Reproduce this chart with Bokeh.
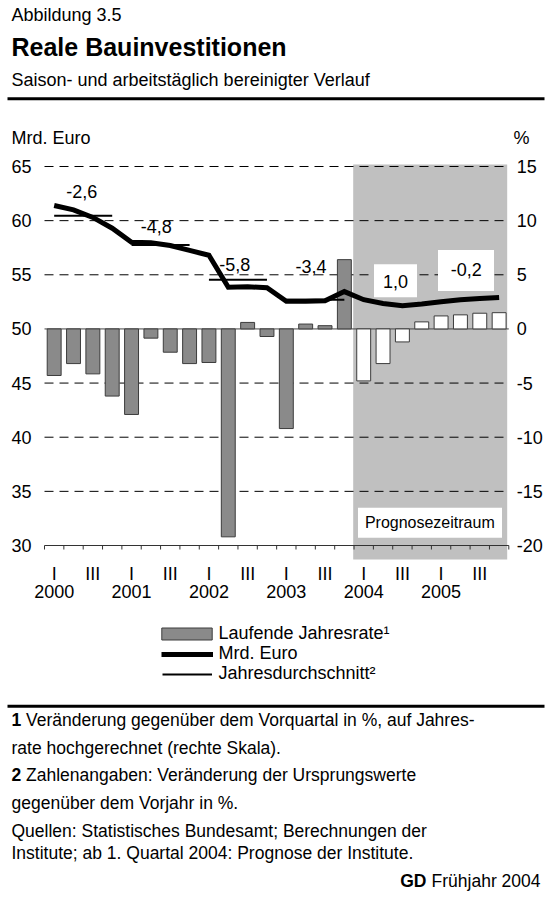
from bokeh.plotting import figure
from bokeh.models import Range1d, LinearAxis, FixedTicker, Legend, LegendItem
from bokeh.embed import file_html
from bokeh.resources import INLINE
from bokeh.core.properties import value

FONT = "Liberation Sans"
W, H = 550, 917

# ---------------- data ----------------
years = ["2000", "2001", "2002", "2003", "2004", "2005"]
quarter_labels = ["I", "III"]
# Mrd. Euro (left scale), quarterly
mrd_euro = [61.4, 61.0, 60.3, 59.3, 58.0, 57.95, 57.7, 57.25, 56.8, 53.85, 53.9, 53.8,
            52.55, 52.55, 52.6, 53.45, 52.7, 52.35, 52.15, 52.3, 52.5, 52.7, 52.8, 52.9]
# Laufende Jahresrate in % (right scale)
jahresrate = [-4.3, -3.2, -4.15, -6.2, -7.9, -0.85, -2.15, -3.2, -3.1, -19.2, 0.6, -0.7,
              -9.2, 0.45, 0.3, 6.4, -4.8, -3.2, -1.2, 0.65, 1.2, 1.3, 1.45, 1.5]
# Jahresdurchschnitt (Mrd. Euro) 2000-2003
jahresdurchschnitt = [60.45, 57.75, 54.55, 52.7]
# Veraenderung gegenueber Vorjahr in %
veraenderung_vorjahr = ["-2,6", "-4,8", "-5,8", "-3,4", "1,0", "-0,2"]
forecast_start = 16  # 2004 I
left_ticks = [30, 35, 40, 45, 50, 55, 60, 65]
right_ticks = [-20, -15, -10, -5, 0, 5, 10, 15]
dashed_levels = [35, 40, 45, 55, 60, 65]
OFFSET = 50  # right scale = left scale - 50

# ---------------- page geometry (layout only) ----------------
n = len(mrd_euro)
FX0, FX1 = 44.0, 508.3          # page x of quarter 0 and quarter n
FY65, FY30 = 166.0, 545.0       # page y of 65 and 30 on left scale
QW = (FX1 - FX0) / n
PX = (FY30 - FY65) / (65 - 30)


def qx(px):
    return (px - FX0) / QW


def vy(py):
    return 65 - (py - FY65) / PX


xc = [i + 0.5 for i in range(n)]
bounds = list(range(n + 1))

p = figure(width=W, height=H, x_range=Range1d(qx(0), qx(W)),
           y_range=Range1d(vy(H), vy(0)), toolbar_location=None, output_backend="svg",
           min_border=0, min_border_left=0, min_border_right=0, min_border_top=0,
           min_border_bottom=0)
p.extra_y_ranges = {"pct": Range1d(vy(H) - OFFSET, vy(0) - OFFSET)}
p.outline_line_color = None
p.xgrid.visible = False
p.ygrid.visible = False

# forecast shading
p.quad(left=[qx(352.7)], right=[qx(506.7)], bottom=[vy(559)], top=[vy(164)],
       fill_color="#c0c0c0", line_color=None)
# dashed grid lines
p.segment(x0=[0] * len(dashed_levels), x1=[n] * len(dashed_levels),
          y0=dashed_levels, y1=dashed_levels, line_color="black", line_width=1,
          line_dash="9 6")
# zero line of bars
p.segment(x0=[0], x1=[n], y0=[0], y1=[0], line_color="#444444", line_width=1,
          y_range_name="pct")

# bars
hist = p.vbar(x=xc[:forecast_start], top=jahresrate[:forecast_start], bottom=0,
              width=0.72, fill_color="#8a8a8a", line_color="#3c3c3c", line_width=1,
              y_range_name="pct")
fc = p.vbar(x=xc[forecast_start:], top=jahresrate[forecast_start:], bottom=0,
            width=0.72, fill_color="white", line_color="#3c3c3c", line_width=1,
            y_range_name="pct")

# x axis line and tick marks at quarter boundaries
p.segment(x0=[0], x1=[n], y0=[left_ticks[0]], y1=[left_ticks[0]], line_color="#333333",
          line_width=1)
p.segment(x0=bounds, x1=bounds, y0=[left_ticks[0]] * len(bounds),
          y1=[vy(549)] * len(bounds), line_color="#333333", line_width=1)

# annual averages
avg = p.segment(x0=[4 * k + 0.5 for k in range(len(jahresdurchschnitt))],
                x1=[4 * k + 3.5 for k in range(len(jahresdurchschnitt))],
                y0=jahresdurchschnitt, y1=jahresdurchschnitt,
                line_color="black", line_width=2)
# main line
ln = p.line(x=xc, y=mrd_euro, line_color="black", line_width=5, line_join="miter")

# annual change labels (forecast ones on white boxes)
lab_x = [qx(81.3), qx(155.8), qx(234.2), qx(310.5), qx(395.0), qx(465.8)]
lab_y = [vy(191.0), vy(225.5), vy(263.7), vy(265.8), vy(281.0), vy(269.2)]
p.rect(x=[qx(395.0), qx(465.5)], y=[vy(280.3), vy(270.0)], width=[43, 56],
       height=[33, 41], width_units="screen", height_units="screen",
       fill_color="white", line_color=None)
p.text(x=lab_x, y=lab_y, text=veraenderung_vorjahr, text_font=value(FONT),
       text_font_size="18px", text_align="center", text_baseline="middle",
       text_color="black")

# Prognosezeitraum box
p.rect(x=[qx(429.5)], y=[vy(522.3)], width=[144], height=[30], width_units="screen",
       height_units="screen", fill_color="white", line_color=None)
p.text(x=[qx(429.3)], y=[vy(521.7)], text=["Prognosezeitraum"], text_font=value(FONT),
       text_font_size="16px", text_align="center", text_baseline="middle",
       text_color="black")

# ---------------- axes (fixed inside the canvas) ----------------
q_ticks, q_over = [], {}
for k in range(len(years)):
    for j, lab in zip((0, 2), quarter_labels):
        t = 4 * k + j + 0.5
        q_ticks.append(t)
        q_over[t] = lab
y_ticks = [4 * k + 0.5 for k in range(len(years))]
y_over = {t: yr for t, yr in zip(y_ticks, years)}


def style_axis(ax, standoff, size="18px"):
    ax.axis_line_color = None
    ax.major_tick_line_color = None
    ax.minor_tick_line_color = None
    ax.major_tick_out = 0
    ax.major_tick_in = 0
    ax.minor_tick_out = 0
    ax.minor_tick_in = 0
    ax.major_label_standoff = standoff
    ax.major_label_text_font = FONT
    ax.major_label_text_font_size = size
    ax.major_label_text_color = "black"


xa = p.xaxis[0]
xa.ticker = FixedTicker(ticks=q_ticks)
xa.major_label_overrides = q_over
xa.fixed_location = vy(559)
style_axis(xa, 4)

yr_axis = LinearAxis(ticker=FixedTicker(ticks=y_ticks), major_label_overrides=y_over,
                     fixed_location=vy(559))
style_axis(yr_axis, 25)
p.add_layout(yr_axis, "below")

la = p.yaxis[0]
la.ticker = FixedTicker(ticks=left_ticks)
la.major_label_overrides = {t: str(t) for t in left_ticks}
la.fixed_location = 0
style_axis(la, 13)

ra = LinearAxis(y_range_name="pct", ticker=FixedTicker(ticks=right_ticks),
                major_label_overrides={t: str(t) for t in right_ticks},
                fixed_location=n)
style_axis(ra, 8)
p.add_layout(ra, "right")

# ---------------- legends (one row each) ----------------


def make_legend(label, renderers, left, bottom, gw, gh, standoff):
    lg = Legend(items=[LegendItem(label=label, renderers=renderers)],
                location=(left, H - bottom),
                glyph_width=gw, glyph_height=gh, label_standoff=standoff,
                label_height=20, padding=0, margin=0, spacing=0,
                border_line_color=None, background_fill_alpha=0,
                label_text_font=FONT, label_text_font_size="18px",
                label_text_color="black")
    p.add_layout(lg)


make_legend("Laufende Jahresrate¹", [hist], 155.4, 644, 63, 15, 0)
make_legend("Mrd. Euro", [ln], 160.5, 664, 52, 20, 6)
make_legend("Jahresdurchschnitt²", [avg], 161.5, 684, 50, 20, 7)

# ---------------- header & footer texts (middle of caps at y) ----------------


def put(text, x, y, size="18px", bold=False, align="left"):
    p.text(x=[qx(x)], y=[vy(y)], text=[text], text_font=value(FONT),
           text_font_size=size, text_font_style="bold" if bold else "normal",
           text_align=align, text_baseline="middle", text_color="black")


put("Abbildung 3.5", 11, 14)
put("Reale Bauinvestitionen", 11, 46, size="25px", bold=True)
put("Saison- und arbeitstäglich bereinigter Verlauf", 11, 79)
put("Mrd. Euro", 11, 137)
put("%", 513, 137)

# rules
p.segment(x0=[qx(7), qx(7)], x1=[qx(544), qx(544)], y0=[vy(98.3), vy(705.7)],
          y1=[vy(98.3), vy(705.7)], line_color="black", line_width=3)

FS = "17.5px"
put("1", 11, 719, size=FS, bold=True)
put("Veränderung gegenüber dem Vorquartal in %, auf Jahres-", 25.5, 719, size=FS)
put("rate hochgerechnet (rechte Skala).", 11, 747, size=FS)
put("2", 11, 774, size=FS, bold=True)
put("Zahlenangaben: Veränderung der Ursprungswerte", 25.5, 774, size=FS)
put("gegenüber dem Vorjahr  in %.", 11, 802, size=FS)
put("Quellen: Statistisches Bundesamt; Berechnungen der", 11, 830, size=FS)
put("Institute; ab 1. Quartal 2004: Prognose der Institute.", 11, 852, size=FS)
put("Frühjahr 2004", 540, 880, size=FS, align="right")
put("GD", 426, 880, size=FS, bold=True, align="right")

open("out.html", "w").write(file_html(p, INLINE))
